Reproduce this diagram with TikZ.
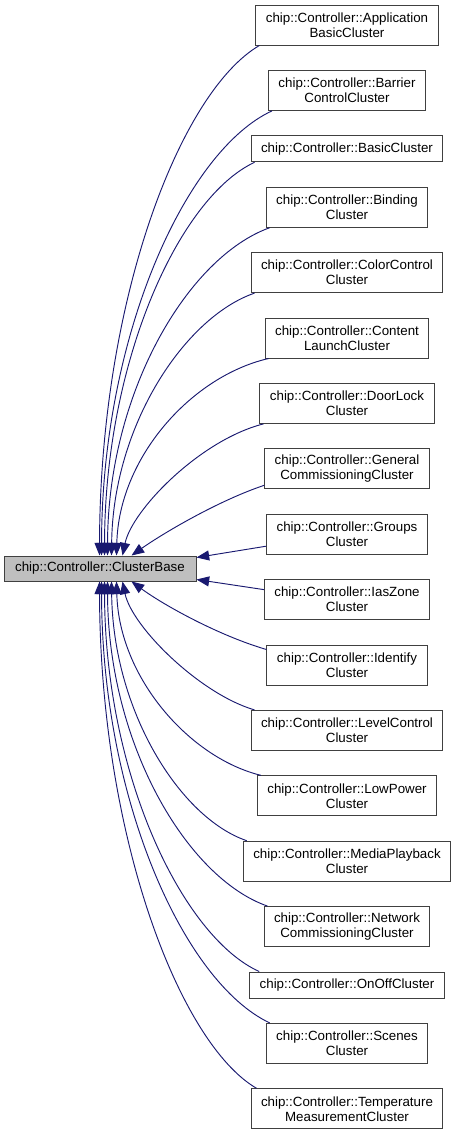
\documentclass[tikz,border=0pt]{standalone}
\usepackage{fontspec}
\setmainfont{Liberation Sans}
\usetikzlibrary{arrows.meta,calc}
\definecolor{edgeblue}{HTML}{191970}
\definecolor{boxline}{HTML}{404040}
\definecolor{basefill}{HTML}{BFBFBF}
\begin{document}
\begin{tikzpicture}[x=0.75pt,y=-0.75pt,
  cls/.style={draw=boxline, line width=0.75pt, fill=white, align=center,
    font=\fontsize{10}{11.25}\selectfont, inner xsep=7.5pt, inner ysep=0pt,
    minimum height=30pt},
  cls1/.style={cls, minimum height=19.5pt},
  basecls/.style={cls1, fill=basefill, minimum width=144pt, minimum height=18.75pt},
  edge/.style={draw=edgeblue, line width=0.7pt,
    {Triangle[length=9.5pt,width=7.5pt,fill=edgeblue]}-}]
\useasboundingbox (0,0) rectangle (456,1136);

\node[basecls] (base) at (100,568.5) {chip::Controller::ClusterBase};

\node[cls]  (n1)  at (347,25)     {chip::Controller::Application\\BasicCluster};
\node[cls]  (n2)  at (347,90.4)   {chip::Controller::Barrier\\ControlCluster};
\node[cls1] (n3)  at (347,148.8)  {chip::Controller::BasicCluster};
\node[cls]  (n4)  at (347,207.2)  {chip::Controller::Binding\\Cluster};
\node[cls]  (n5)  at (347,272.6)  {chip::Controller::ColorControl\\Cluster};
\node[cls]  (n6)  at (347,338)    {chip::Controller::Content\\LaunchCluster};
\node[cls]  (n7)  at (347,403.4)  {chip::Controller::DoorLock\\Cluster};
\node[cls]  (n8)  at (347,468.8)  {chip::Controller::General\\CommissioningCluster};
\node[cls]  (n9)  at (347,534.2)  {chip::Controller::Groups\\Cluster};
\node[cls]  (n10) at (347,599.6)  {chip::Controller::IasZone\\Cluster};
\node[cls]  (n11) at (347,665)    {chip::Controller::Identify\\Cluster};
\node[cls]  (n12) at (347,730.4)  {chip::Controller::LevelControl\\Cluster};
\node[cls]  (n13) at (347,795.8)  {chip::Controller::LowPower\\Cluster};
\node[cls]  (n14) at (347,861.2)  {chip::Controller::MediaPlayback\\Cluster};
\node[cls]  (n15) at (347,926.6)  {chip::Controller::Network\\CommissioningCluster};
\node[cls1] (n16) at (347,985)    {chip::Controller::OnOffCluster};
\node[cls]  (n17) at (347,1043.4) {chip::Controller::Scenes\\Cluster};
\node[cls]  (n18) at (347,1108.8) {chip::Controller::Temperature\\MeasurementCluster};

% upper group -> top of base
\draw[edge] ($(base.north west)+(96,0)$)  .. controls (100,300) and (180,92)  .. ($(n1.south west)+(4,0)$);
\draw[edge] ($(base.north west)+(98,0)$)  .. controls (102,333) and (187,150) .. ($(n2.south west)+(4,0)$);
\draw[edge] ($(base.north west)+(101,0)$) .. controls (105,359) and (180,197) .. ($(n3.south west)+(4,0)$);
\draw[edge] ($(base.north west)+(104,0)$) .. controls (108,392) and (188,257) .. ($(n4.south west)+(4,0)$);
\draw[edge] ($(base.north west)+(108,0)$) .. controls (113,425) and (185,317) .. ($(n5.south west)+(4,0)$);
\draw[edge] ($(base.north west)+(113,0)$) .. controls (119,457) and (192,376) .. ($(n6.south west)+(4,0)$);
\draw[edge] ($(base.north west)+(119,0)$) .. controls (132,510) and (200,440) .. ($(n7.south west)+(4,0)$);
\draw[edge] ($(base.north west)+(128,0)$) .. controls (165,532) and (220,500) .. ($(n8.south west)+(0,-4)$);
% middle
\draw[edge] ($(base.north east)+(0,2)$) -- ($(n9.west)+(0,12)$);
\draw[edge] ($(base.south east)+(0,-2)$) -- ($(n10.west)+(0,-10)$);
% lower group -> bottom of base
\draw[edge] ($(base.south west)+(128,0)$) .. controls (165,606) and (220,636) .. ($(n11.north west)+(0,5)$);
\draw[edge] ($(base.south west)+(119,0)$) .. controls (132,627) and (200,694) .. ($(n12.north west)+(4,0)$);
\draw[edge] ($(base.south west)+(113,0)$) .. controls (119,678) and (190,758) .. ($(n13.north west)+(4,0)$);
\draw[edge] ($(base.south west)+(108,0)$) .. controls (113,711) and (180,818) .. ($(n14.north west)+(4,0)$);
\draw[edge] ($(base.south west)+(104,0)$) .. controls (108,744) and (187,878) .. ($(n15.north west)+(4,0)$);
\draw[edge] ($(base.south west)+(101,0)$) .. controls (105,776) and (183,937) .. ($(n16.north west)+(10,0)$);
\draw[edge] ($(base.south west)+(98,0)$)  .. controls (102,802) and (185,983) .. ($(n17.north west)+(4,0)$);
\draw[edge] ($(base.south west)+(96,0)$)  .. controls (100,835) and (179,1043) .. ($(n18.north west)+(6,0)$);
\end{tikzpicture}
\end{document}
